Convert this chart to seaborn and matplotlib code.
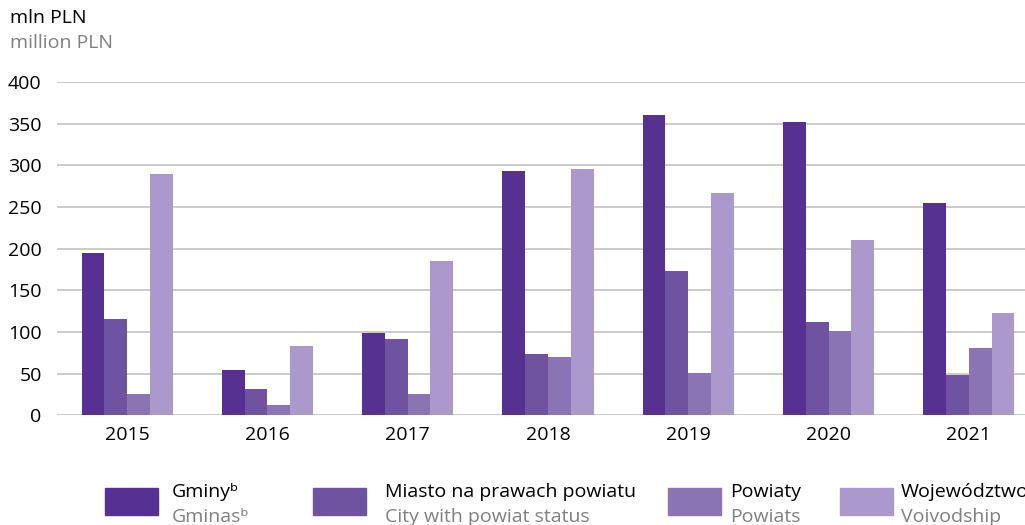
import seaborn as sns
import matplotlib.pyplot as plt
import matplotlib.patches as mpatches
import pandas as pd

years = ['2015', '2016', '2017', '2018', '2019', '2020', '2021']
gminy = [195, 54, 99, 293, 360, 352, 255]
miasto = [115, 32, 91, 74, 173, 112, 48]
powiaty = [25, 12, 25, 70, 51, 101, 81]
wojewodztwa = [289, 83, 185, 295, 267, 210, 123]

series_pl = ['Gminy\u1d47', 'Miasto na prawach powiatu', 'Powiaty', 'Województwo']
series_en = ['Gminas\u1d47', 'City with powiat status', 'Powiats', 'Voivodship']
colors = ['#563192', '#6f52a0', '#8a74b3', '#aa99ca']

df = pd.DataFrame({
    'year': years * 4,
    'value': gminy + miasto + powiaty + wojewodztwa,
    'series': [s for s in series_pl for _ in years],
})

sns.set_style('white')
plt.rcParams['font.family'] = ['Open Sans', 'DejaVu Sans']

fig = plt.figure(figsize=(10.25, 5.25), dpi=100)
ax = fig.add_axes([0.0556, 0.209, 0.958, 0.635])

sns.barplot(data=df, x='year', y='value', hue='series', palette=colors,
            width=0.65, gap=0, legend=False, ax=ax, saturation=1,
            linewidth=0, zorder=3)

ax.set_xlim(-0.5, 6.5)
ax.set_ylim(0, 400)
ax.set_yticks(range(0, 401, 50))
ax.grid(axis='y', color='#bdbdbd', linewidth=1.1, zorder=0)
ax.grid(axis='x', visible=False)
for s in ax.spines.values():
    s.set_visible(False)
ax.set_xlabel('')
ax.set_ylabel('')
ax.tick_params(axis='both', length=0, labelsize=14, colors='black')
ax.tick_params(axis='y', pad=11)
ax.tick_params(axis='x', pad=8)

fig.text(0.0098, 0.966, 'mln PLN', fontsize=14, color='black', va='center')
fig.text(0.0098, 0.918, 'million PLN', fontsize=14, color='#808080', va='center')

patch_x = [105, 313, 668, 840]
text_x = [172, 385, 730, 901]
for px, tx, c, pl, en in zip(patch_x, text_x, colors, series_pl, series_en):
    fig.patches.append(mpatches.Rectangle((px / 1025, 1 - 515 / 525), 53 / 1025, 27 / 525,
                                          transform=fig.transFigure, color=c))
    fig.text(tx / 1025, 1 - 492 / 525, pl, fontsize=14, color='black', va='center')
    fig.text(tx / 1025, 1 - 517 / 525, en, fontsize=14, color='#808080', va='center')

fig.savefig('out.png', dpi=100)
